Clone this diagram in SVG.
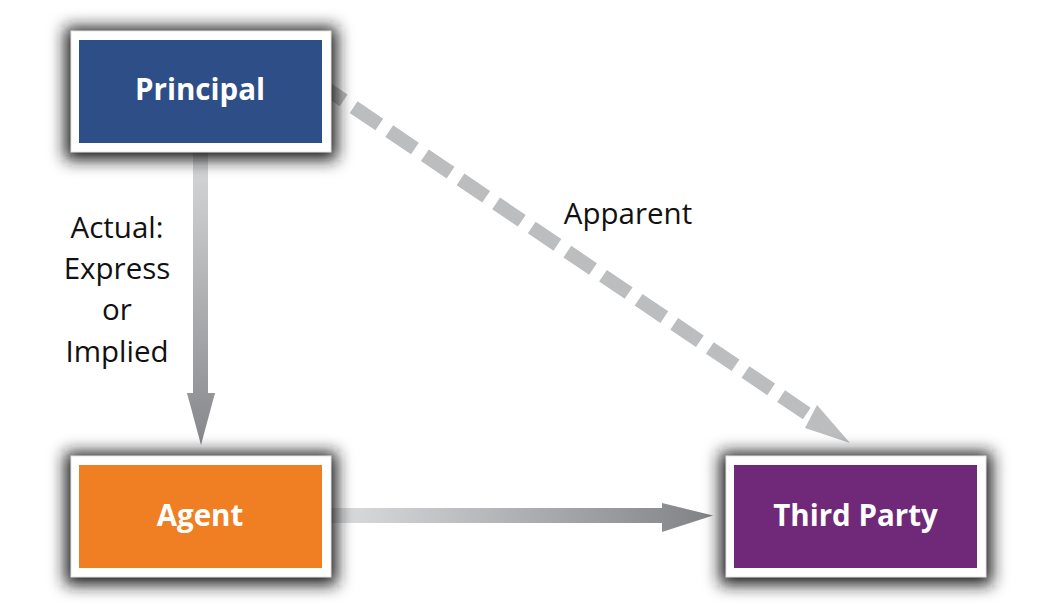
<svg xmlns="http://www.w3.org/2000/svg" width="1053" height="611" viewBox="0 0 1053 611">
<style>
.frame{fill:#ffffff;stroke:#e4e4e4;stroke-width:1}
.shadow{fill:#1e1e1e;filter:url(#blur)}
.lbl{font-family:"Open Sans","Liberation Sans",sans-serif;font-weight:bold;font-size:29.5px;fill:#ffffff;text-anchor:middle}
.txt{font-family:"Open Sans","Liberation Sans",sans-serif;font-size:29.5px;fill:#111111;text-anchor:middle}
</style>
<defs>
<filter id="blur" x="-30%" y="-50%" width="160%" height="200%"><feGaussianBlur stdDeviation="8"/></filter>
<linearGradient id="gv" x1="0" y1="0" x2="0" y2="1"><stop offset="0" stop-color="#d8d9db"/><stop offset="1" stop-color="#85878a"/></linearGradient>
<linearGradient id="gh" x1="0" y1="0" x2="1" y2="0"><stop offset="0" stop-color="#dcdddf"/><stop offset="1" stop-color="#808285"/></linearGradient>
</defs>
<rect width="1053" height="611" fill="#ffffff"/>
<g id="connectors">
<path d="M193,150 H208 V393 H215 L201,445 L187,393 H193 Z" fill="url(#gv)"/>
<path d="M331,508 H662 V503 L713,515.5 L662,532 V523 H331 Z" fill="url(#gh)"/>
<line x1="318" y1="83" x2="812" y2="417" stroke="#bcbdbf" stroke-width="14" stroke-dasharray="31 12"/>
<path d="M850,443 L805,428 L817,405 Z" fill="#bcbdbf"/>
</g>
<g id="principal">
<rect class="shadow" x="65" y="27" width="272" height="133"/>
<rect class="frame" x="71" y="31" width="260" height="121"/>
<rect x="79" y="40" width="243" height="103" fill="#2e4e88"/>
<text class="lbl" x="200" y="100">Principal</text>
</g>
<g id="agent">
<rect class="shadow" x="65" y="452" width="272" height="133"/>
<rect class="frame" x="71" y="456" width="260" height="121"/>
<rect x="79" y="465" width="243" height="103" fill="#ef7f22"/>
<text class="lbl" x="200" y="526">Agent</text>
</g>
<g id="third-party">
<rect class="shadow" x="720" y="452" width="272" height="133"/>
<rect class="frame" x="726" y="456" width="260" height="121"/>
<rect x="734" y="465" width="243" height="103" fill="#702878"/>
<text class="lbl" x="855.5" y="526">Third Party</text>
</g>
<g id="labels">
<text class="txt" x="117" y="238">Actual:</text>
<text class="txt" x="117" y="279">Express</text>
<text class="txt" x="117" y="320">or</text>
<text class="txt" x="117" y="362">Implied</text>
<text class="txt" x="628" y="224">Apparent</text>
</g>
</svg>
